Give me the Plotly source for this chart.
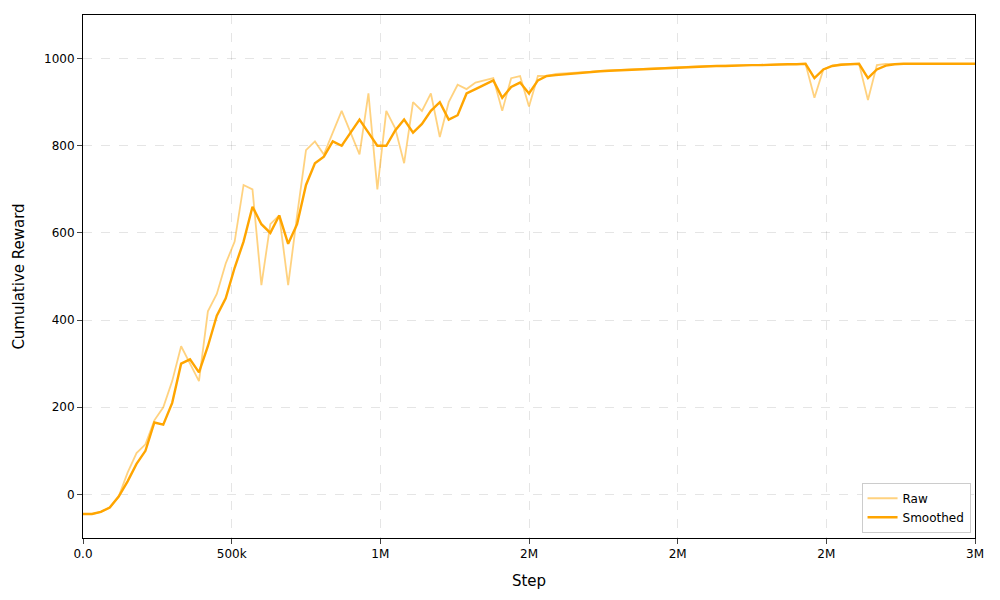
import plotly.graph_objects as go

step_size = 30000
raw = [-45,-45,-40,-30,-5,50,95,115,170,200,260,340,300,260,420,460,530,580,710,700,
       480,620,640,480,640,790,810,780,830,880,830,780,920,700,880,840,760,900,880,920,
       820,900,940,930,945,950,955,880,955,960,890,960,960,965,966,967,968,970,972,973,
       974,975,976,977,978,979,980,980,981,982,983,983,984,984,985,985,986,986,987,987,
       988,988,910,975,984,987,988,988,905,985,988,988,988,988,988,988,988,988,988,988,988]
smoothed = [-45,-45,-40,-30,-5,30,70,100,165,160,210,300,310,280,340,410,450,520,580,660,
            620,600,640,575,620,710,760,775,810,800,830,860,830,800,800,835,860,830,850,880,
            900,860,870,920,930,940,950,910,935,945,920,950,960,962,964,965,967,969,971,972,
            973,974,975,976,977,978,979,980,980,981,982,983,983,984,984,985,985,986,986,987,
            987,988,955,975,983,986,987,988,955,975,984,987,988,988,988,988,988,988,988,988,988]
steps = [i * step_size for i in range(len(raw))]
tick_vals = [0, 500000, 1000000, 1500000, 2000000, 2500000, 3000000]
tick_text = ["0.0", "500k", "1M", "2M", "2M", "2M", "3M"]
y_ticks = [0, 200, 400, 600, 800, 1000]

fig = go.Figure()
fig.add_trace(go.Scatter(x=steps, y=raw, mode="lines", name="Raw",
                         line=dict(color="rgba(255,165,0,0.5)", width=1.8)))
fig.add_trace(go.Scatter(x=steps, y=smoothed, mode="lines", name="Smoothed",
                         line=dict(color="#FFA500", width=2.4)))
ax = dict(showline=True, linecolor="black", mirror=True, ticks="outside",
          gridcolor="rgba(0,0,0,0.1)", griddash="dash", zeroline=False,
          tickfont=dict(size=12, color="black"))
fig.update_layout(
    width=1000, height=600, plot_bgcolor="white", paper_bgcolor="white",
    font=dict(family="DejaVu Sans", color="black"),
    margin=dict(l=75, r=33, t=7, b=70),
    xaxis=dict(range=[0, 3000000], tickvals=tick_vals, ticktext=tick_text,
               title=dict(text="Step", font=dict(size=15)), **ax),
    yaxis=dict(range=[-100, 1100], tickvals=y_ticks,
               title=dict(text="Cumulative Reward", font=dict(size=15)), **ax),
    legend=dict(x=0.995, y=0.01, xanchor="right", yanchor="bottom",
                bordercolor="#ccc", borderwidth=1, bgcolor="white", font=dict(size=12)),
)
fig.write_html("out.html")
